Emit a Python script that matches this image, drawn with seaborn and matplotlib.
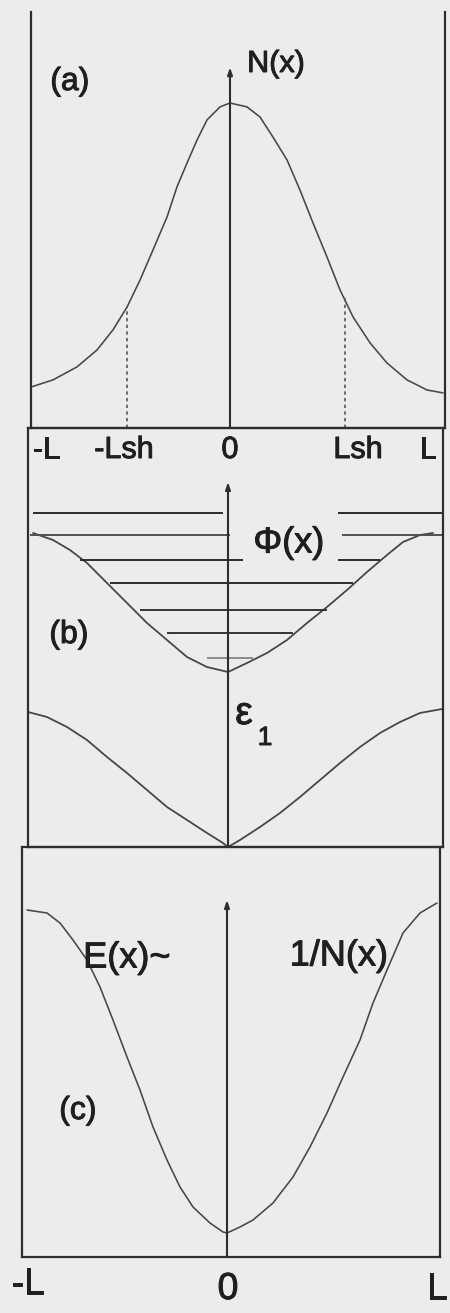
import numpy as np
import pandas as pd
import seaborn as sns
import matplotlib.pyplot as plt
import matplotlib.patheffects as pe

# ---------------- data ----------------
# (a) density profile N(x); x in units of L (0 at centre), N normalised to its peak
n_x = [-0.995, -0.885, -0.765, -0.665, -0.585, -0.515, -0.45, -0.385, -0.315, -0.265,
       -0.215, -0.165, -0.115, -0.05, 0.0, 0.085, 0.15, 0.215, 0.285, 0.35,
       0.415, 0.485, 0.55, 0.615, 0.70, 0.785, 0.885, 0.985, 1.065]
n_y = [0.126, 0.148, 0.188, 0.240, 0.302, 0.372, 0.455, 0.548, 0.649, 0.742,
       0.815, 0.886, 0.948, 0.988, 1.0, 0.988, 0.957, 0.895, 0.825, 0.732,
       0.631, 0.526, 0.425, 0.342, 0.262, 0.200, 0.148, 0.117, 0.108]
lsh_x = [-0.515, 0.575]         # -Lsh, Lsh
lsh_n = [0.372, 0.41]           # N at +-Lsh

# (b) potential Phi(x)
phi_x = [-0.975, -0.875, -0.79, -0.705, -0.605, -0.505, -0.405, -0.305, -0.205, -0.105, 0.0,
         0.095, 0.195, 0.295, 0.395, 0.495, 0.595, 0.695, 0.795, 0.875, 0.96, 1.025]
phi_y = [3.14, 3.07, 2.97, 2.84, 2.64, 2.44, 2.24, 2.07, 1.90, 1.80, 1.75,
         1.84, 1.94, 2.07, 2.24, 2.40, 2.57, 2.75, 2.92, 3.05, 3.12, 3.14]
# bound levels in the well: energy, left end, right end, label gap (start, end)
level_e = [3.34, 3.12, 2.87, 2.64, 2.37, 2.14, 1.89]
level_x0 = [-0.975, -0.99, -0.74, -0.59, -0.44, -0.305, -0.105]
level_x1 = [1.075, 1.075, 0.76, 0.625, 0.495, 0.325, 0.125]
gap_x0 = [-0.025, 0.01, 0.075, None, None, None, None]
gap_x1 = [0.55, 0.57, 0.55, None, None, None, None]
level_shade = ["#2c2c2c", "#505050", "#2c2c2c", "#2c2c2c", "#333333", "#333333", "#8c8c8c"]

# (b) lowest subband epsilon_1(x)
eps_x = [-1.0, -0.905, -0.805, -0.705, -0.605, -0.505, -0.405, -0.305, -0.205, -0.105, -0.025, 0.0,
         0.06, 0.16, 0.26, 0.36, 0.46, 0.56, 0.66, 0.76, 0.86, 0.96, 1.07]
eps_y = [1.35, 1.30, 1.20, 1.07, 0.90, 0.74, 0.57, 0.40, 0.27, 0.14, 0.04, 0.0,
         0.07, 0.20, 0.34, 0.50, 0.67, 0.84, 1.00, 1.14, 1.25, 1.34, 1.38]

# (c) field E(x) ~ 1/N(x)
e_x = [-1.0, -0.9, -0.835, -0.77, -0.70, -0.635, -0.57, -0.50, -0.435, -0.37, -0.30,
       -0.235, -0.17, -0.085, -0.02, 0.0,
       0.065, 0.13, 0.23, 0.33, 0.415, 0.50, 0.58, 0.665, 0.73, 0.80, 0.88, 0.965, 1.05]
e_y = [3.47, 3.44, 3.34, 3.17, 2.97, 2.70, 2.37, 2.00, 1.67, 1.30, 0.97,
       0.70, 0.50, 0.34, 0.25, 0.24,
       0.30, 0.37, 0.54, 0.80, 1.10, 1.44, 1.80, 2.17, 2.54, 2.87, 3.24, 3.44, 3.54]

# ---------------- style ----------------
BG = "#ececec"
AX = "#2e2e2e"
CURVE = "#474747"
TXT = "#1f1f1f"

sns.set_theme(style="white")
plt.rcParams["font.family"] = ["Liberation Sans", "DejaVu Sans"]

W, H = 450, 1313
fig = plt.figure(figsize=(W / 100, H / 100), dpi=100, facecolor=BG)
heavy = [pe.withStroke(linewidth=0.7, foreground=TXT)]


def panel(left, right, top, bottom):
    ax = fig.add_axes([left / W, 1 - bottom / H, (right - left) / W, (bottom - top) / H])
    ax.set_facecolor("none")
    for s in ax.spines.values():
        s.set_color(AX)
        s.set_linewidth(1.6)
    ax.set_xticks([])
    ax.set_yticks([])
    return ax


def put(xp, yp, s, size=22, **kw):
    fig.text(xp / W, 1 - yp / H, s, ha="center", va="center", fontsize=size, color=TXT,
             path_effects=heavy, **kw)


def centre_axis(ax, top):
    ax.annotate("", xy=(0, top), xytext=(0, 0),
                arrowprops=dict(arrowstyle="-|>,head_length=0.35,head_width=0.12",
                                color=AX, lw=1.5, shrinkA=0, shrinkB=0))


def curve(ax, xs, ys, lw=1.15):
    sns.lineplot(x=xs, y=ys, ax=ax, color=CURVE, lw=lw, sort=False, estimator=None,
                 solid_joinstyle="round")


# ---- (a) ----
ax_a = panel(31, 445, 12, 428)
ax_a.spines["top"].set_visible(False)
ax_a.set_xlim(-0.995, 1.075)
ax_a.set_ylim(0, 1.28)
curve(ax_a, n_x, n_y)
ax_a.vlines(lsh_x, 0, lsh_n, colors="#555555", linestyles=(0, (2, 2)), lw=1.2)
centre_axis(ax_a, 1.11)

put(70, 82, "(a)", 23)
put(276, 64, "N(x)", 22)
for xp, s in [(46, "-L"), (124, "-Lsh"), (230, "0"), (358, "Lsh"), (428, "L")]:
    put(xp, 450, s, 22)

# ---- (b) ----
ax_b = panel(28, 443, 428, 847)
ax_b.set_xlim(-1.0, 1.075)
ax_b.set_ylim(0, 4.19)
curve(ax_b, phi_x, phi_y, 1.3)
curve(ax_b, eps_x, eps_y, 1.3)
for e, x0, x1, g0, g1, c in zip(level_e, level_x0, level_x1, gap_x0, gap_x1, level_shade):
    if g0 is None:
        ax_b.hlines(e, x0, x1, colors=c, lw=1.4)
    else:
        ax_b.hlines(e, x0, g0, colors=c, lw=1.4)
        ax_b.hlines(e, g1, x1, colors=c, lw=1.4)
centre_axis(ax_b, 3.65)

put(289, 543, "Φ(x)", 26)
put(69, 635, "(b)", 23)
put(244, 714, "ε", 28)
put(265, 738, "1", 19)

# ---- (c) ----
ax_c = panel(22, 440, 847, 1257)
ax_c.set_xlim(-1.025, 1.065)
ax_c.set_ylim(0, 4.10)
curve(ax_c, e_x, e_y)
centre_axis(ax_c, 3.57)

put(127, 958, "E(x)~", 26)
put(339, 956, "1/N(x)", 26)
put(78, 1111, "(c)", 23)
put(28, 1284, "-L", 27)
put(228, 1289, "0", 27)
put(437, 1289, "L", 27)

fig.savefig("out.png", dpi=100, facecolor=BG)
